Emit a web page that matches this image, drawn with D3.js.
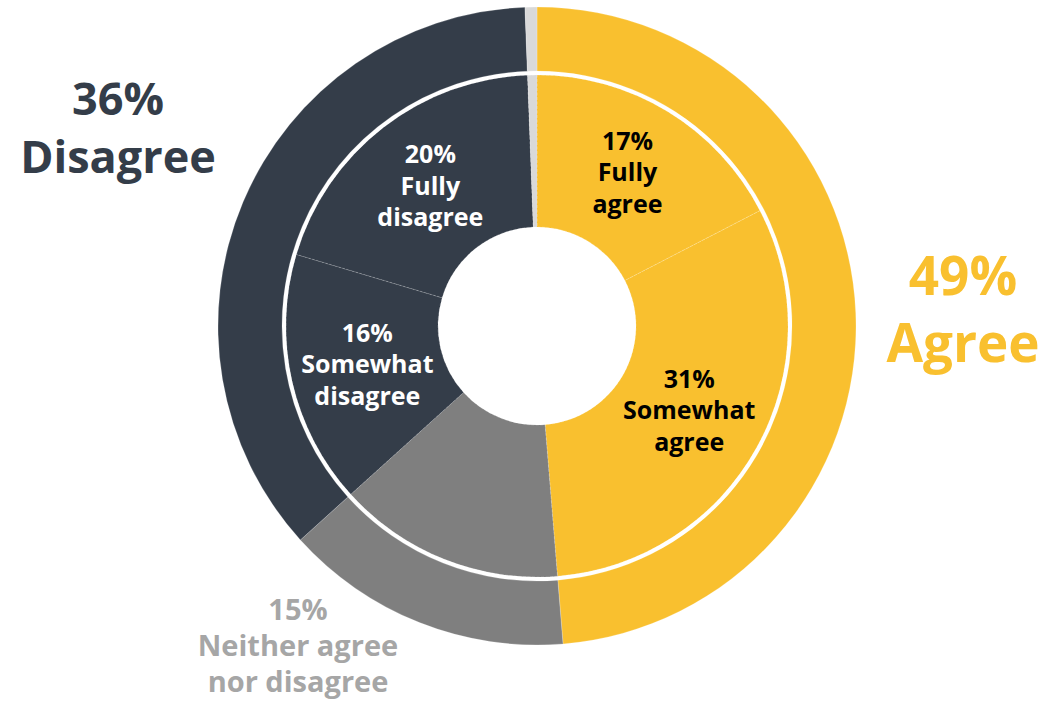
<!DOCTYPE html>
<html>
<head>
<meta charset="utf-8">
<script src="https://cdn.jsdelivr.net/npm/d3@7"></script>
<style>
  html, body { margin: 0; padding: 0; background: #ffffff; }
  svg { display: block; }
  text { font-family: "Open Sans", "Noto Sans", sans-serif; font-weight: 700; }
</style>
</head>
<body>
<svg id="chart" width="1061" height="704"></svg>
<script>
// Detailed answers (inner ring)
const innerCategories = ["Fully agree", "Somewhat agree", "Neither agree nor disagree", "Somewhat disagree", "Fully disagree", "No answer"];
const innerGroups     = ["agree", "agree", "neutral", "disagree", "disagree", "none"];
const innerValues     = [17.4, 31.3, 14.6, 16.3, 19.8, 0.6];
const innerLines      = [["17%", "Fully", "agree"], ["31%", "Somewhat", "agree"], null, ["16%", "Somewhat", "disagree"], ["20%", "Fully", "disagree"], null];

// Summary answers (outer ring)
const outerCategories = ["Agree", "Neither agree nor disagree", "Disagree", "No answer"];
const outerGroups     = ["agree", "neutral", "disagree", "none"];
const outerValues     = [48.7, 14.6, 36.1, 0.6];
const outerLines      = [["49%", "Agree"], ["15%", "Neither agree", "nor disagree"], ["36%", "Disagree"], null];

const colors = { agree: "#F9C02F", neutral: "#7F7F7F", disagree: "#343D49", none: "#D9D9D9" };
const outerTextColors = { agree: "#F9C02F", neutral: "#A6A6A6", disagree: "#343D49" };
const innerTextColors = { agree: "#000000", disagree: "#FFFFFF" };

const cx = 537, cy = 326;
const rHole = 99, rInnerOuter = 251, rOuterInner = 255, rOuter = 319;

const svg = d3.select("#chart");
const g = svg.append("g").attr("transform", `translate(${cx},${cy})`);

const pie = d3.pie().sort(null).value(d => d.value);

const innerData = pie(innerValues.map((v, i) => ({ value: v, name: innerCategories[i], group: innerGroups[i], lines: innerLines[i] })));
const outerData = pie(outerValues.map((v, i) => ({ value: v, name: outerCategories[i], group: outerGroups[i], lines: outerLines[i] })));

const innerArc = d3.arc().innerRadius(rHole).outerRadius(rInnerOuter);
const outerArc = d3.arc().innerRadius(rOuterInner).outerRadius(rOuter);

g.selectAll("path.outer")
  .data(outerData)
  .join("path")
  .attr("class", "outer")
  .attr("d", outerArc)
  .attr("fill", d => colors[d.data.group])
  .attr("stroke", "rgba(255,255,255,0.35)")
  .attr("stroke-width", 0.6);

g.selectAll("path.inner")
  .data(innerData)
  .join("path")
  .attr("class", "inner")
  .attr("d", innerArc)
  .attr("fill", d => colors[d.data.group])
  .attr("stroke", "rgba(255,255,255,0.35)")
  .attr("stroke-width", 0.6)
  .attr("stroke-dasharray", "3,1.5");

// Inner ring labels near the slice centroids
const labelRadius = 174;
const innerFont = 25, innerLineH = 31.5;
innerData.filter(d => d.data.lines).forEach(d => {
  const [x, y0] = d3.arc().innerRadius(labelRadius).outerRadius(labelRadius).centroid(d);
  const y = y0 - (d.data.name === "Fully agree" ? 5 : 0) - (d.data.name === "Fully disagree" ? 3 : 0);
  const lines = d.data.lines;
  const t = g.append("text")
    .attr("text-anchor", "middle")
    .attr("font-size", innerFont)
    .attr("fill", innerTextColors[d.data.group]);
  lines.forEach((line, i) => {
    t.append("tspan")
      .attr("x", x)
      .attr("y", y + (i - (lines.length - 1) / 2) * innerLineH + innerFont * 0.36)
      .text(line);
  });
});

// Summary labels beside the ring
const outerLabelPos = {
  agree:    { x: 963, y: 295, size: 53, lineH: 67 },
  neutral:  { x: 298, y: 620, size: 29, lineH: 36 },
  disagree: { x: 118, y: 115, size: 45, lineH: 58 }
};
outerData.filter(d => d.data.lines).forEach(d => {
  const p = outerLabelPos[d.data.group];
  const t = svg.append("text")
    .attr("text-anchor", "middle")
    .attr("font-size", p.size)
    .attr("fill", outerTextColors[d.data.group]);
  d.data.lines.forEach((line, i) => {
    t.append("tspan").attr("x", p.x).attr("y", p.y + i * p.lineH).text(line);
  });
});
</script>
</body>
</html>
